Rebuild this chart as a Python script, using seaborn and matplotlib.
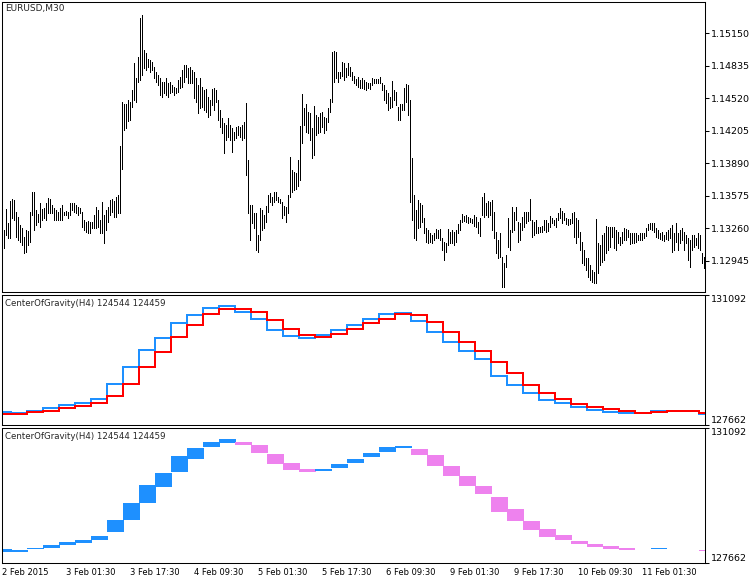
import numpy as np
import pandas as pd
import matplotlib
matplotlib.use('Agg')
import matplotlib.pyplot as plt
import seaborn as sns

# EURUSD M30 bars: high and low in points (price * 1e5)
highs = [
    113244, 113447, 113312, 113525, 113544, 113535, 113418, 113370, 113292, 113263,
    113176, 113244, 113234, 113418, 113612, 113612, 113438, 113399, 113505, 113447,
    113457, 113505, 113554, 113544, 113486, 113457, 113438, 113418, 113457, 113486,
    113418, 113428, 113418, 113505, 113505, 113505, 113486, 113467, 113457, 113418,
    113341, 113321, 113331, 113321, 113321, 113389, 113467, 113438, 113341, 113515,
    113389, 113438, 113467, 113535, 113544, 113525, 113564, 113583, 114058, 114484,
    114465, 114465, 114504, 114484, 114601, 114862, 114717, 114921, 115299, 115328,
    114988, 114959, 114901, 114892, 114872, 114824, 114775, 114746, 114717, 114678,
    114678, 114717, 114669, 114678, 114649, 114630, 114620, 114698, 114727, 114795,
    114843, 114843, 114814, 114824, 114795, 114775, 114717, 114649, 114717, 114630,
    114601, 114610, 114533, 114504, 114610, 114620, 114601, 114504, 114407, 114329,
    114281, 114262, 114329, 114262, 114232, 114194, 114242, 114252, 114242, 114262,
    114291, 114475, 113922, 113486, 113486, 113409, 113409, 113195, 113457, 113438,
    113389, 113476, 113583, 113602, 113564, 113612, 113612, 113564, 113544, 113515,
    113476, 113467, 113583, 113951, 113825, 113806, 113796, 113922, 114252, 114562,
    114426, 114465, 114388, 114378, 114232, 114446, 114358, 114339, 114378, 114388,
    114339, 114329, 114426, 114514, 114969, 114979, 114969, 114775, 114775, 114872,
    114862, 114814, 114862, 114824, 114775, 114736, 114707, 114727, 114698, 114717,
    114698, 114678, 114669, 114669, 114717, 114707, 114707, 114707, 114727, 114669,
    114649, 114601, 114572, 114533, 114688, 114601, 114581, 114436, 114465, 114465,
    114620, 114659, 114649, 114504, 113942, 113583, 113438, 113535, 113505, 113486,
    113360, 113263, 113244, 113215, 113195, 113215, 113253, 113244, 113253, 113166,
    113127, 113118, 113253, 113224, 113244, 113224, 113244, 113302, 113341, 113399,
    113380, 113389, 113370, 113360, 113350, 113389, 113370, 113321, 113360, 113564,
    113602, 113505, 113525, 113515, 113535, 113418, 113224, 113147, 113215, 112982,
    112924, 113002, 113360, 113244, 113467, 113418, 113467, 113321, 113312, 113370,
    113418, 113418, 113418, 113544, 113341, 113321, 113341, 113273, 113273, 113283,
    113341, 113341, 113312, 113380, 113360, 113341, 113360, 113409, 113457, 113428,
    113409, 113360, 113350, 113350, 113409, 113418, 113360, 113341, 113224, 113127,
    113050, 112972, 112972, 112905, 112856, 112837, 113350, 113118, 113098, 113195,
    113215, 113283, 113273, 113273, 113273, 113273, 113244, 113224, 113176, 113224,
    113263, 113253, 113244, 113215, 113215, 113215, 113215, 113195, 113215, 113215,
    113215, 113263, 113302, 113312, 113312, 113312, 113263, 113244, 113215, 113224,
    113195, 113224, 113244, 113263, 113292, 113215, 113312, 113215, 113244, 113263,
    113224, 113195, 113166, 113147, 113195, 113195, 113166, 113215, 113195, 113021, 112982,
]
lows = [
    113069, 113195, 113166, 113166, 113360, 113341, 113176, 113147, 113127, 113098,
    113021, 113031, 113098, 113127, 113389, 113244, 113292, 113321, 113273, 113341,
    113360, 113341, 113409, 113409, 113409, 113341, 113341, 113341, 113341, 113341,
    113389, 113389, 113360, 113389, 113438, 113418, 113409, 113389, 113409, 113273,
    113244, 113224, 113215, 113215, 113263, 113263, 113263, 113273, 113215, 113215,
    113118, 113244, 113321, 113389, 113418, 113370, 113370, 113409, 113409, 113835,
    114213, 114232, 114300, 114310, 114436, 114504, 114484, 114678, 114698, 114746,
    114814, 114795, 114824, 114775, 114795, 114717, 114678, 114649, 114552, 114533,
    114572, 114552, 114533, 114572, 114581, 114552, 114572, 114581, 114620, 114630,
    114678, 114727, 114669, 114669, 114669, 114523, 114484, 114378, 114426, 114436,
    114407, 114388, 114339, 114358, 114455, 114407, 114484, 114310, 114242, 114184,
    113990, 114116, 114145, 114116, 114000, 114116, 114136, 114165, 114145, 114116,
    114136, 113777, 113409, 113147, 113312, 113263, 113050, 113031, 113147, 113244,
    113263, 113321, 113418, 113515, 113486, 113515, 113535, 113515, 113505, 113360,
    113389, 113321, 113409, 113564, 113612, 113632, 113641, 113670, 113728, 114087,
    114262, 114194, 114184, 114116, 113942, 113971, 114165, 114184, 114194, 114242,
    114184, 114213, 114291, 114388, 114484, 114678, 114717, 114678, 114717, 114736,
    114698, 114727, 114746, 114736, 114698, 114669, 114649, 114630, 114620, 114620,
    114610, 114601, 114620, 114610, 114649, 114669, 114669, 114669, 114669, 114601,
    114504, 114475, 114407, 114426, 114436, 114504, 114455, 114310, 114310, 114407,
    114407, 114484, 114358, 113515, 113341, 113166, 113147, 113263, 113273, 113321,
    113215, 113127, 113118, 113127, 113118, 113147, 113166, 113166, 113147, 113050,
    112953, 113031, 113098, 113118, 113118, 113098, 113127, 113215, 113244, 113321,
    113331, 113321, 113312, 113321, 113312, 113283, 113273, 113215, 113186, 113389,
    113370, 113389, 113370, 113389, 113244, 113166, 113021, 112972, 112982, 112691,
    112691, 112885, 113079, 113050, 113224, 113244, 113341, 113127, 113147, 113244,
    113273, 113312, 113331, 113341, 113176, 113195, 113215, 113215, 113224, 113224,
    113244, 113224, 113234, 113273, 113312, 113292, 113273, 113341, 113360, 113312,
    113341, 113302, 113292, 113302, 113312, 113176, 113118, 113176, 113050, 112924,
    112905, 112856, 112788, 112759, 112740, 112730, 112730, 112827, 112905, 112934,
    112953, 113021, 113050, 113079, 113176, 113069, 113050, 113118, 113098, 113118,
    113147, 113147, 113176, 113108, 113118, 113118, 113127, 113147, 113147, 113147,
    113166, 113186, 113244, 113253, 113244, 113224, 113176, 113166, 113157, 113147,
    113137, 113157, 113147, 113166, 113031, 113050, 113127, 113050, 113118, 113147,
    113050, 113118, 112953, 112885, 113050, 113079, 113098, 113069, 113050, 112924, 112876,
]

# CenterOfGravity(H4): one value per H4 bar
cog_main = [
    128013, 127987, 128039, 128103, 128190, 128250, 128340, 128736, 129184, 129641,
    129950, 130361, 130564, 130741, 130810, 130651, 130459, 130169, 130018, 129965,
    130037, 130169, 130308, 130459, 130591, 130625, 130406, 130124, 129860, 129622,
    129395, 128963, 128717, 128498, 128322, 128250, 128129, 128058, 128013, 127987,
    127987, 128039, 128023, 128023, 127952,
]
cog_signal = [
    127944, 127944, 128005, 128039, 128118, 128163, 128250, 128435, 128736, 129184,
    129596, 129976, 130300, 130591, 130715, 130723, 130651, 130432, 130195, 130037,
    129992, 130063, 130187, 130345, 130467, 130583, 130556, 130388, 130124, 129860,
    129614, 129332, 129026, 128717, 128514, 128356, 128216, 128129, 128076, 128039,
    127987, 128013, 128023, 128023, 127987,
]

time_labels = ['2 Feb 2015', '3 Feb 01:30', '3 Feb 17:30', '4 Feb 09:30', '5 Feb 01:30',
               '5 Feb 17:30', '6 Feb 09:30', '9 Feb 01:30', '9 Feb 17:30', '10 Feb 09:30',
               '11 Feb 01:30']
price_ticks = [1.12945, 1.13260, 1.13575, 1.13890, 1.14205, 1.14520, 1.14835, 1.15150]
cog_ticks = [127662, 131092]

sns.set_style('white')
plt.rcParams['font.family'] = ['DejaVu Sans']

fig = plt.figure(figsize=(7.5, 5.8), dpi=100)
left, width = 0.0027, 0.937
ax1 = fig.add_axes([left, 0.4960, width, 0.5005])
ax2 = fig.add_axes([left, 0.2672, width, 0.2242])
ax3 = fig.add_axes([left, 0.0298, width, 0.2328])

n = min(len(highs), len(lows))
idx = np.arange(n)

# price bars
ax1.vlines(idx, np.array(lows[:n]) / 1e5, np.array(highs[:n]) / 1e5,
           color='black', lw=0.6, antialiased=False)
ax1.set_ylim(1.12640, 1.15454)
ax1.set_yticks(price_ticks)
ax1.set_yticklabels([f'{p:.5f}' for p in price_ticks])

# H4 step edges on the M30 axis
edges = np.r_[-1.5, 3.5 + 8 * np.arange(len(cog_main) - 1), n - 0.5]
main = np.array(cog_main)
sig = np.array(cog_signal)
steps = pd.DataFrame({'x': edges,
                      'main': np.r_[main, main[-1]],
                      'signal': np.r_[sig, sig[-1]]})

sns.lineplot(data=steps, x='x', y='main', ax=ax2, color='#1E90FF', lw=1.3,
             drawstyle='steps-post', estimator=None, antialiased=False)
sns.lineplot(data=steps, x='x', y='signal', ax=ax2, color='red', lw=1.3,
             drawstyle='steps-post', estimator=None, antialiased=False)

# colour histogram between the two lines (slight overlap so blocks touch)
cols = np.where(main > sig, '#1E90FF', '#EE82EE')
ax3.bar(edges[:-1], main - sig, bottom=sig, width=np.diff(edges) + 0.4, align='edge',
        color=cols, linewidth=0, antialiased=False)

for ax in (ax2, ax3):
    ax.set_ylim(cog_ticks[0], cog_ticks[1])
    ax.set_yticks(cog_ticks)
    ax.set_yticklabels([str(v) for v in cog_ticks])

for ax in (ax1, ax2, ax3):
    ax.set_xlim(-1.2, 350.6)
    ax.set_xlabel('')
    ax.set_ylabel('')
    ax.yaxis.tick_right()
    ax.tick_params(axis='y', direction='out', length=3, width=0.75, pad=1.5,
                   labelsize=6.8, colors='black')
    for s in ax.spines.values():
        s.set_color('black')
        s.set_linewidth(0.75)
    ax.set_facecolor('white')

for ax in (ax2, ax3):
    labs = ax.get_yticklabels()
    labs[0].set_va('bottom')
    labs[1].set_va('top')

ax1.tick_params(axis='x', bottom=False, labelbottom=False)
ax2.tick_params(axis='x', bottom=False, labelbottom=False)
ax3.set_xticks(np.arange(len(time_labels)) * 32 - 1)
ax3.set_xticklabels(time_labels, ha='left')
ax3.tick_params(axis='x', direction='out', length=2.5, width=0.75, pad=1.5,
                labelsize=6, colors='black')

ax1.annotate('EURUSD,M30', xy=(0, 1), xycoords='axes fraction', xytext=(3, -2),
             textcoords='offset pixels', ha='left', va='top', fontsize=6.5)
for ax in (ax2, ax3):
    ax.annotate('CenterOfGravity(H4) 124544 124459', xy=(0, 1), xycoords='axes fraction',
                xytext=(3, -4), textcoords='offset pixels', ha='left', va='top', fontsize=6.2)

fig.savefig('out.png', dpi=100)
